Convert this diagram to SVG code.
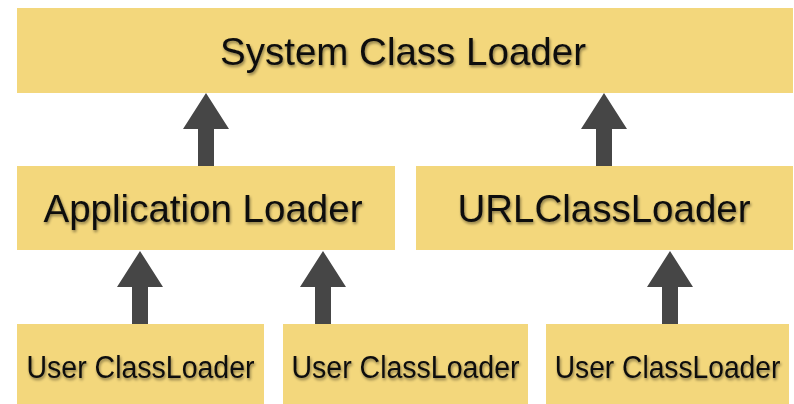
<svg xmlns="http://www.w3.org/2000/svg" xmlns:xlink="http://www.w3.org/1999/xlink" width="794" height="404" viewBox="0 0 794 404">
  <defs>
    <style>
      .box { fill: #F3D77C; }
      .lbl { font-family: "Liberation Sans", Arial, sans-serif; fill: #111; text-anchor: middle; filter: url(#shadow); }
      .big { font-size: 38.5px; }
      .small { font-size: 31px; }
      .arrow { fill: #464646; }
    </style>
    <filter id="shadow" x="-4%" y="-25%" width="108%" height="150%">
      <feGaussianBlur in="SourceAlpha" stdDeviation="1.6"/>
      <feOffset dx="1" dy="1.5" result="b"/>
      <feComponentTransfer><feFuncA type="linear" slope="0.45"/></feComponentTransfer>
      <feMerge><feMergeNode/><feMergeNode in="SourceGraphic"/></feMerge>
    </filter>
    <path id="arr" d="M0,0 L23,36 L8,36 L8,73 L-8,73 L-8,36 L-23,36 Z"/>
  </defs>
  <rect width="794" height="404" fill="#ffffff"/>

  <g id="connectors">
    <use xlink:href="#arr" class="arrow" x="206" y="93"/>
    <use xlink:href="#arr" class="arrow" x="604" y="93"/>
    <use xlink:href="#arr" class="arrow" x="140" y="251"/>
    <use xlink:href="#arr" class="arrow" x="323" y="251"/>
    <use xlink:href="#arr" class="arrow" x="670" y="251"/>
  </g>

  <g id="system-class-loader">
    <rect class="box" x="17" y="8" width="776" height="85"/>
    <text class="lbl big" x="403" y="65">System Class Loader</text>
  </g>
  <g id="application-loader">
    <rect class="box" x="17" y="166" width="378" height="84"/>
    <text class="lbl big" x="203" y="222">Application Loader</text>
  </g>
  <g id="url-class-loader">
    <rect class="box" x="416" y="166" width="377" height="84"/>
    <text class="lbl big" x="604" y="222">URLClassLoader</text>
  </g>
  <g id="user-classloader-1">
    <rect class="box" x="17" y="324" width="247" height="80"/>
    <text class="lbl small" transform="translate(140.5 378) scale(0.92 1)">User ClassLoader</text>
  </g>
  <g id="user-classloader-2">
    <rect class="box" x="283" y="324" width="245" height="80"/>
    <text class="lbl small" transform="translate(405.5 378) scale(0.92 1)">User ClassLoader</text>
  </g>
  <g id="user-classloader-3">
    <rect class="box" x="546" y="324" width="243" height="80"/>
    <text class="lbl small" transform="translate(667.5 378) scale(0.91 1)">User ClassLoader</text>
  </g>
</svg>
